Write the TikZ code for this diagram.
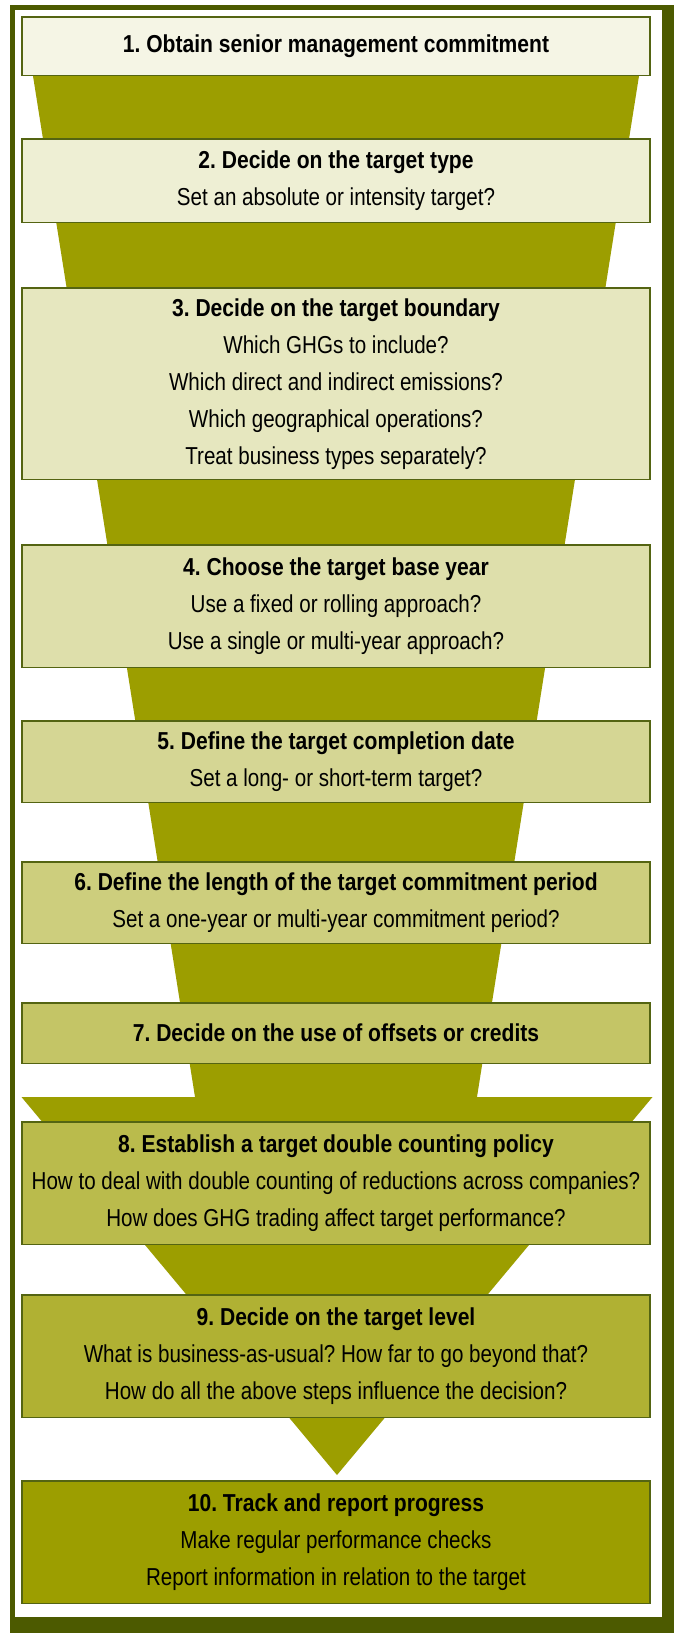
\documentclass[tikz,border=0pt]{standalone}
\usepackage{fontspec}
\setmainfont{Liberation Sans}[FakeStretch=0.84]
\newfontfamily\titlefont{Liberation Sans}[FakeStretch=0.86]
\usepackage{xcolor}
\usepackage{tikz}
\usetikzlibrary{positioning}
\definecolor{ghgolive}{RGB}{156,158,0}
\definecolor{ghgframe}{RGB}{76,90,0}
\definecolor{ghgedge}{RGB}{84,100,18}
\newcommand{\stephead}[1]{{\titlefont\bfseries #1}}
\frenchspacing

\begin{document}
\begin{tikzpicture}[x=1pt, y=-1pt,
  box/.style={draw=ghgedge, line width=1.6pt, minimum width=628pt, inner sep=3pt,
              outer sep=0pt, align=center, font=\fontsize{24.5}{37}\selectfont},
  node distance=60pt]
\useasboundingbox (0,0) rectangle (674,1633);
\fill[ghgframe] (10,5) rectangle (674,1633);
\fill[white] (15,10) rectangle (662,1617);
% funnel behind the steps
\fill[ghgolive] (27.3,40) -- (644.7,40) -- (477,1097) -- (652.5,1097) -- (337,1475)
  -- (21.5,1097) -- (195,1097) -- cycle;

\node[box, fill=ghgolive!10, minimum height=58.4pt, anchor=north] (b1) at (336,17)
  {\stephead{1. Obtain senior management commitment}};
\node[box, fill=ghgolive!17, minimum height=83.4pt, below=63.6pt of b1] (b2)
  {\stephead{2. Decide on the target type}\\Set an absolute or intensity target?};
\node[box, fill=ghgolive!25, minimum height=191.4pt, below=65.6pt of b2] (b3)
  {\stephead{3. Decide on the target boundary}\\Which GHGs to include?\\
   Which direct and indirect emissions?\\Which geographical operations?\\
   Treat business types separately?};
\node[box, fill=ghgolive!33, minimum height=122.4pt, below=65.6pt of b3] (b4)
  {\stephead{4. Choose the target base year}\\Use a fixed or rolling approach?\\
   Use a single or multi-year approach?};
\node[box, fill=ghgolive!42, minimum height=81.4pt, below=53.6pt of b4] (b5)
  {\stephead{5. Define the target completion date}\\Set a long- or short-term target?};
\node[box, fill=ghgolive!51, minimum height=81.4pt, below=59.6pt of b5] (b6)
  {\stephead{6. Define the length of the target commitment period}\\
   Set a one-year or multi-year commitment period?};
\node[box, fill=ghgolive!60, minimum height=60.4pt, below=59.6pt of b6] (b7)
  {\stephead{7. Decide on the use of offsets or credits}};
\node[box, fill=ghgolive!70, minimum height=122.4pt, below=58.6pt of b7] (b8)
  {\stephead{8. Establish a target double counting policy}\\
   How to deal with double counting of reductions across companies?\\
   How does GHG trading affect target performance?};
\node[box, fill=ghgolive!80, minimum height=122.4pt, below=50.6pt of b8] (b9)
  {\stephead{9. Decide on the target level}\\
   What is business-as-usual? How far to go beyond that?\\
   How do all the above steps influence the decision?};
\node[box, fill=ghgolive, minimum height=122.4pt, below=63.6pt of b9] (b10)
  {\stephead{10. Track and report progress}\\Make regular performance checks\\
   Report information in relation to the target};
\end{tikzpicture}
\end{document}
